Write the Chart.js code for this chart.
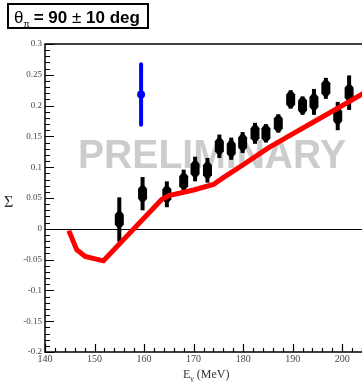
<!DOCTYPE html>
<html>
<head>
<meta charset="utf-8">
<script src="https://cdn.jsdelivr.net/npm/chart.js@4/dist/chart.umd.min.js"></script>
<style>
  html, body { margin: 0; padding: 0; background: #fff; }
  #wrap { width: 362px; height: 382px; }
</style>
</head>
<body>
<div id="wrap"><canvas id="myChart" width="362" height="382"></canvas></div>
<script>
// measured points (black)
const energy = [155.0, 159.7, 164.6, 168.0, 170.3, 172.8, 175.2, 177.6, 179.9, 182.4, 184.6, 187.1, 189.6, 192.0, 194.3, 196.7, 199.1, 201.4];
const sigma = [0.015, 0.057, 0.056, 0.077, 0.097, 0.095, 0.134, 0.130, 0.140, 0.155, 0.155, 0.171, 0.210, 0.200, 0.206, 0.228, 0.183, 0.221];
const sigmaErr = [0.036, 0.027, 0.021, 0.019, 0.020, 0.020, 0.019, 0.018, 0.017, 0.017, 0.015, 0.015, 0.015, 0.015, 0.021, 0.017, 0.023, 0.028];

// single blue point
const blueE = [159.4];
const blueSigma = [0.218];
const blueErr = [0.049];

// red model curve
const modelE = [144.8, 146.4, 148.1, 151.8, 163.6, 165.0, 170.0, 174.0, 176.0, 180.0, 185.0, 190.0, 195.0, 200.0, 204.5];
const modelSigma = [-0.003, -0.034, -0.045, -0.052, 0.048, 0.054, 0.063, 0.072, 0.083, 0.104, 0.131, 0.154, 0.177, 0.200, 0.221];

const xTicks = [140, 150, 160, 170, 180, 190, 200];
const yTicks = [0.3, 0.25, 0.2, 0.15, 0.1, 0.05, 0, -0.05, -0.1, -0.15, -0.2];

const toXY = (xs, ys) => xs.map((x, i) => ({ x, y: ys[i] }));

const decorPlugin = {
    id: "decor",
    beforeDatasetsDraw(chart) {
        const { ctx, chartArea: a, scales: { x, y } } = chart;
        ctx.save();
        // watermark
        ctx.fillStyle = "#cccccc";
        ctx.font = "bold 40px 'Liberation Sans', Arial, sans-serif";
        ctx.textAlign = "left";
        ctx.textBaseline = "alphabetic";
        ctx.fillText("PRELIMINARY", 78, 168, 268);

        // zero line
        ctx.strokeStyle = "#000";
        ctx.lineWidth = 1;
        ctx.beginPath();
        ctx.moveTo(a.left, Math.round(y.getPixelForValue(0)) + 0.5);
        ctx.lineTo(a.right, Math.round(y.getPixelForValue(0)) + 0.5);
        ctx.stroke();

        // error bars of black points
        const meta = chart.getDatasetMeta(1);
        meta.data.forEach((pt, i) => {
            const px = pt.x;
            const yTop = y.getPixelForValue(sigma[i] + sigmaErr[i]);
            const yBot = y.getPixelForValue(sigma[i] - sigmaErr[i]);
            ctx.fillStyle = "#000";
            ctx.fillRect(px - 2, yTop, 4, yBot - yTop);
            const py = pt.y;
            ctx.beginPath();
            ctx.moveTo(px - 4.5, py - 5);
            ctx.lineTo(px - 2, py - 8);
            ctx.lineTo(px + 2, py - 8);
            ctx.lineTo(px + 4.5, py - 5);
            ctx.lineTo(px + 4.5, py + 5);
            ctx.lineTo(px + 2, py + 8);
            ctx.lineTo(px - 2, py + 8);
            ctx.lineTo(px - 4.5, py + 5);
            ctx.closePath();
            ctx.fill();
        });
        ctx.restore();
    },
    afterDatasetsDraw(chart) {
        const { ctx, chartArea: a, scales: { x, y } } = chart;
        ctx.save();
        // blue point with error bar
        blueE.forEach((e, i) => {
            const px = x.getPixelForValue(e);
            const yTop = y.getPixelForValue(blueSigma[i] + blueErr[i]);
            const yBot = y.getPixelForValue(blueSigma[i] - blueErr[i]);
            ctx.strokeStyle = "#0000ff";
            ctx.lineWidth = 4;
            ctx.lineCap = "round";
            ctx.beginPath();
            ctx.moveTo(px, yTop);
            ctx.lineTo(px, yBot);
            ctx.stroke();
            ctx.fillStyle = "#0000ff";
            ctx.beginPath();
            ctx.arc(px, y.getPixelForValue(blueSigma[i]), 4, 0, Math.PI * 2);
            ctx.fill();
        });

        // frame
        ctx.strokeStyle = "#000";
        ctx.lineWidth = 1.5;
        ctx.lineCap = "butt";
        ctx.beginPath();
        ctx.moveTo(a.right, a.top);
        ctx.lineTo(a.left, a.top);
        ctx.lineTo(a.left, a.bottom);
        ctx.lineTo(a.right, a.bottom);
        ctx.stroke();

        // ticks (inside)
        ctx.lineWidth = 1.2;
        ctx.beginPath();
        for (let v = 140; v <= 204; v += 2) {
            const px = Math.round(x.getPixelForValue(v)) + 0.5;
            const len = v % 10 === 0 ? 8 : 4;
            ctx.moveTo(px, a.bottom);
            ctx.lineTo(px, a.bottom - len);
        }
        for (let k = -20; k <= 30; k++) {
            const py = Math.round(y.getPixelForValue(k / 100)) + 0.5;
            const len = k % 5 === 0 ? 9 : 5;
            ctx.moveTo(a.left, py);
            ctx.lineTo(a.left + len, py);
        }
        ctx.stroke();

        // title box
        ctx.lineWidth = 2;
        ctx.strokeRect(8, 4, 140, 24);
        ctx.fillStyle = "#000";
        ctx.textBaseline = "alphabetic";
        ctx.textAlign = "left";
        ctx.font = "17px 'Liberation Sans', Arial, sans-serif";
        ctx.fillText("\u03b8", 14, 23);
        let tx = 14 + ctx.measureText("\u03b8").width;
        ctx.font = "9px 'Liberation Sans', Arial, sans-serif";
        ctx.fillText("\u03c0", tx, 27);
        tx += ctx.measureText("\u03c0").width + 4;
        ctx.font = "bold 17px 'Liberation Sans', Arial, sans-serif";
        ctx.fillText("= 90", tx, 23);
        tx += ctx.measureText("= 90 ").width;
        ctx.font = "17px 'Liberation Sans', Arial, sans-serif";
        ctx.fillText("\u00b1", tx, 23);
        tx += ctx.measureText("\u00b1 ").width;
        ctx.font = "bold 17px 'Liberation Sans', Arial, sans-serif";
        ctx.fillText("10 deg", tx, 23);

        // axis titles
        ctx.fillStyle = "#333";
        ctx.font = "16px 'Liberation Serif', 'Times New Roman', serif";
        ctx.fillText("\u03a3", 4, 207);
        ctx.font = "12px 'Liberation Serif', 'Times New Roman', serif";
        let lx = 183;
        ctx.fillText("E", lx, 378);
        lx += ctx.measureText("E").width;
        ctx.font = "8px 'Liberation Serif', 'Times New Roman', serif";
        ctx.fillText("\u03b3", lx, 381);
        lx += ctx.measureText("\u03b3").width + 3;
        ctx.font = "12px 'Liberation Serif', 'Times New Roman', serif";
        ctx.fillText("(MeV)", lx, 378);
        ctx.restore();
    }
};

const canvas = document.getElementById("myChart");
const myChart = new Chart(canvas, {
    type: "scatter",
    data: {
        datasets: [
            {
                label: "model",
                type: "line",
                data: toXY(modelE, modelSigma),
                borderColor: "#ff0000",
                borderWidth: 5,
                pointRadius: 0,
                tension: 0,
                fill: false,
                order: 0
            },
            {
                label: "data",
                data: toXY(energy, sigma),
                pointRadius: 0,
                backgroundColor: "#000",
                order: 1
            }
        ]
    },
    options: {
        responsive: false,
        animation: false,
        events: [],
        layout: { padding: { top: 44, right: 0, left: 0, bottom: 0 } },
        plugins: { legend: { display: false }, tooltip: { enabled: false } },
        scales: {
            x: {
                type: "linear",
                min: 140,
                max: 204,
                grid: { display: false, drawTicks: false, tickLength: 0 },
                border: { display: false },
                afterFit: (s) => { s.height = 30; },
                afterBuildTicks: (s) => { s.ticks = xTicks.map((v) => ({ value: v })); },
                ticks: {
                    color: "#444",
                    padding: 1,
                    font: { family: "'Liberation Serif', 'Times New Roman', serif", size: 10 },
                    maxRotation: 0
                }
            },
            y: {
                min: -0.2,
                max: 0.3,
                grid: { display: false, drawTicks: false, tickLength: 0 },
                border: { display: false },
                afterFit: (s) => { s.width = 45; },
                afterBuildTicks: (s) => { s.ticks = yTicks.map((v) => ({ value: v })); },
                ticks: {
                    color: "#444",
                    padding: 3,
                    font: { family: "'Liberation Serif', 'Times New Roman', serif", size: 9 },
                    callback: (v) => String(Math.round(v * 100) / 100)
                }
            }
        }
    },
    plugins: [decorPlugin]
});
</script>
</body>
</html>
